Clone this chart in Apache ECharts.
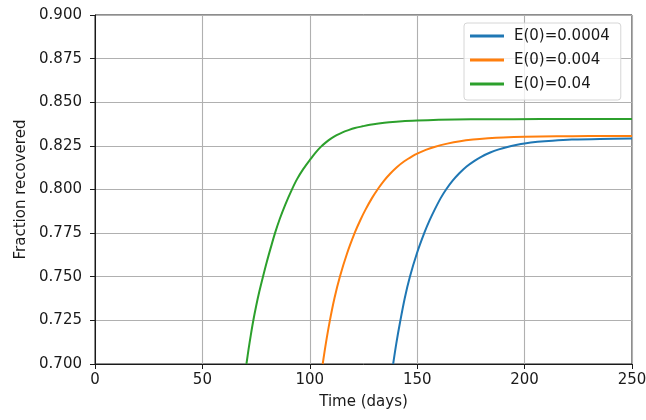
<!DOCTYPE html>
<html>
<head>
<meta charset="utf-8">
<script src="https://cdn.jsdelivr.net/npm/echarts@6/dist/echarts.min.js"></script>
<style>
  html, body { margin: 0; padding: 0; background: #fff; }
  #chart { width: 646px; height: 420px; }
</style>
</head>
<body>
<div id="chart"></div>
<script>
// Recovered fraction over time for three initial exposed fractions, as [day, fraction]
const seriesNames = ['E(0)=0.0004', 'E(0)=0.004', 'E(0)=0.04'];

const recoveredE0004 = [
  [138.8, 0.7000], [140.3, 0.7120], [142.1, 0.7245], [144.2, 0.7377], [146.6, 0.7500],
  [149.8, 0.7632], [153.4, 0.7754], [155.8, 0.7824], [158.2, 0.7886], [161.0, 0.7952],
  [163.6, 0.8003], [166.5, 0.8051], [169.5, 0.8092], [173.0, 0.8132], [176.5, 0.8163],
  [180.0, 0.8189], [184.0, 0.8212], [188.0, 0.8230], [192.0, 0.8244], [196.0, 0.8255],
  [200.0, 0.8264], [206.0, 0.8273], [213.0, 0.8280], [222.0, 0.8286], [235.0, 0.8290],
  [250.0, 0.8292]
];

const recoveredE004 = [
  [106.0, 0.7000], [107.5, 0.7120], [109.3, 0.7246], [111.5, 0.7378], [114.0, 0.7500],
  [117.3, 0.7632], [121.0, 0.7754], [123.5, 0.7824], [126.0, 0.7886], [129.0, 0.7952],
  [131.7, 0.8003], [134.5, 0.8050], [137.5, 0.8092], [140.5, 0.8128], [144.0, 0.8162],
  [148.0, 0.8193], [150.0, 0.8206], [154.0, 0.8227], [158.0, 0.8244], [164.0, 0.8263],
  [170.0, 0.8277], [176.0, 0.8286], [183.0, 0.8293], [190.0, 0.8298], [200.0, 0.8302],
  [215.0, 0.8305], [230.0, 0.8306], [250.0, 0.8307]
];

const recoveredE04 = [
  [70.5, 0.7000], [71.5, 0.7085], [72.5, 0.7163], [73.7, 0.7249], [75.0, 0.7331],
  [76.5, 0.7415], [78.2, 0.7500], [80.0, 0.7586], [82.0, 0.7674], [83.8, 0.7750],
  [86.0, 0.7831], [88.5, 0.7911], [91.6, 0.7998], [94.0, 0.8058], [97.0, 0.8118],
  [100.0, 0.8169], [102.5, 0.8209], [105.0, 0.8243], [107.5, 0.8270], [110.0, 0.8293],
  [112.5, 0.8311], [115.0, 0.8326], [118.0, 0.8340], [121.0, 0.8352], [124.5, 0.8362],
  [128.0, 0.8371], [132.0, 0.8378], [137.0, 0.8385], [143.0, 0.8391], [150.0, 0.8395],
  [160.0, 0.8399], [175.0, 0.8402], [195.0, 0.8403], [220.0, 0.8404], [250.0, 0.8404]
];

const seriesColors = ['#1f77b4', '#ff7f0e', '#2ca02c'];
const xTicks = { min: 0, max: 250, step: 50 };
const yTicks = { min: 0.7, max: 0.9, step: 0.025 };

const FONT = 'DejaVu Sans';
const chart = echarts.init(document.getElementById('chart'), null, { renderer: 'canvas' });

const dataSets = [recoveredE0004, recoveredE004, recoveredE04];

chart.setOption({
  animation: false,
  backgroundColor: '#ffffff',
  grid: {
    left: 95, right: 14, top: 15, bottom: 56,
    outerBoundsMode: 'none',
    containLabel: false,
    show: true, borderColor: '#1a1a1a', borderWidth: 1, backgroundColor: 'transparent'
  },
  legend: {
    data: seriesNames,
    orient: 'vertical',
    left: 464, top: 23,
    icon: 'rect',
    itemWidth: 34, itemHeight: 3,
    itemGap: 8,
    padding: [5, 11, 8, 6],
    backgroundColor: 'rgba(255,255,255,0.8)',
    borderColor: '#d6d6d6', borderWidth: 1, borderRadius: 3,
    textStyle: { fontFamily: FONT, fontSize: 15, color: '#1a1a1a', lineHeight: 16, padding: [0, 0, 0, 5] }
  },
  xAxis: {
    type: 'value',
    min: xTicks.min, max: xTicks.max, interval: xTicks.step,
    name: 'Time (days)',
    nameLocation: 'middle', nameGap: 31,
    nameTextStyle: { fontFamily: FONT, fontSize: 15, color: '#1a1a1a' },
    axisLine: { show: true, onZero: false, lineStyle: { color: '#1a1a1a', width: 1 } },
    axisTick: { show: true, length: 5, lineStyle: { color: '#1a1a1a' } },
    axisLabel: { fontFamily: FONT, fontSize: 15, color: '#1a1a1a', margin: 9 },
    splitLine: { show: true, lineStyle: { color: '#b0b0b0', width: 1.1 } }
  },
  yAxis: {
    type: 'value',
    min: yTicks.min, max: yTicks.max, interval: yTicks.step,
    name: 'Fraction recovered',
    nameLocation: 'middle', nameGap: 66,
    nameTextStyle: { fontFamily: FONT, fontSize: 15, color: '#1a1a1a' },
    axisLine: { show: true, onZero: false, lineStyle: { color: '#1a1a1a', width: 1 } },
    axisTick: { show: true, length: 5, lineStyle: { color: '#1a1a1a' } },
    axisLabel: {
      fontFamily: FONT, fontSize: 15, color: '#1a1a1a', margin: 13,
      formatter: v => v.toFixed(3)
    },
    splitLine: { show: true, lineStyle: { color: '#b0b0b0', width: 1.1 } }
  },
  series: seriesNames.map((name, i) => ({
    name: name,
    type: 'line',
    data: dataSets[i],
    smooth: 0.3,
    showSymbol: false,
    symbol: 'none',
    clip: true,
    lineStyle: { color: seriesColors[i], width: 2 },
    itemStyle: { color: seriesColors[i] }
  }))
});
</script>
</body>
</html>
